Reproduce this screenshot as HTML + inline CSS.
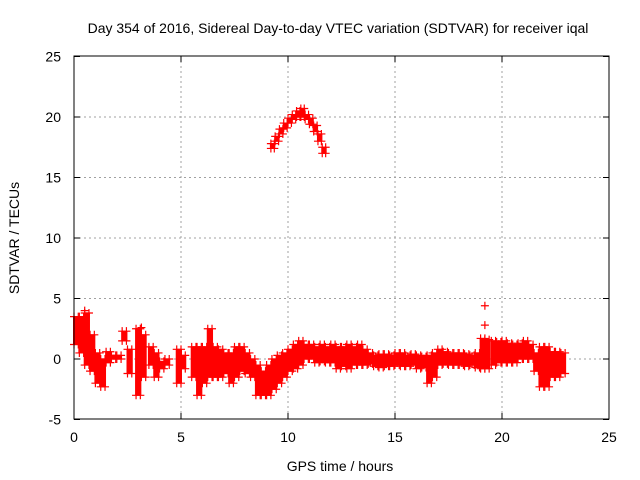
<!DOCTYPE html>
<html><head><meta charset="utf-8"><style>
body{margin:0;background:#fff}
svg{display:block;font-family:"Liberation Sans",sans-serif;font-size:13px}
</style></head><body>
<svg id="chart" width="640" height="480" viewBox="0 0 640 480">
<text x="338" y="33" text-anchor="middle" font-size="14">Day 354 of 2016, Sidereal Day-to-day VTEC variation (SDTVAR) for receiver iqal</text>
<g id="grid"></g>
<g id="marks"></g>
<rect x="74" y="56" width="535" height="363" fill="none" stroke="#000" stroke-width="1"/>
<g id="ticks"></g>
<text x="340" y="471" text-anchor="middle" font-size="14">GPS time / hours</text>
<text transform="translate(19,238) rotate(-90)" text-anchor="middle" font-size="14">SDTVAR / TECUs</text>
</svg>
<script>
const xTicks=[0,5,10,15,20,25];
const yTicks=[-5,0,5,10,15,20,25];
const bandTime=[0,0.25,0.5,0.75,1,1.25,1.5,1.75,2,2.25,2.5,2.9,3.15,3.5,3.75,4,4.25,4.8,5,5.5,5.75,6,6.25,6.5,6.75,7,7.25,7.5,7.75,8,8.25,8.5,8.75,9,9.25,9.5,9.75,10,10.25,10.5,10.75,11,11.25,11.5,11.75,12,12.25,12.5,12.75,13,13.25,13.5,13.75,14,14.25,14.5,14.75,15,15.25,15.5,15.75,16,16.25,16.5,16.75,17,17.25,17.5,17.75,18,18.25,18.5,18.75,19,19.2,19.5,19.75,20,20.25,20.5,20.75,21,21.25,21.5,21.75,22,22.25,22.5,22.75];
const bandLow=[1.2,0.5,-0.5,-1,-2,-2.3,-0.3,0,0,1.5,-1.2,-3,-1.5,-0.5,-1.5,-0.8,-0.5,-2,-0.8,-1.5,-3,-2,-1.5,-1.5,-1.5,-1.2,-2,-1.5,-1,-1.2,-1.5,-3,-3,-3,-2.5,-2,-1.5,-1,-0.8,-0.5,0,0,-0.3,-0.2,-0.3,-0.3,-0.8,-0.6,-0.8,-0.5,-0.5,-0.5,-0.4,-0.6,-0.7,-0.6,-0.6,-0.5,-0.6,-0.6,-0.5,-0.8,-0.7,-2,-1.5,-0.5,-0.4,-0.5,-0.5,-0.5,-0.6,-0.5,-0.7,-0.8,-0.8,-0.5,-0.3,-0.3,-0.3,-0.3,0,0,0,-1,-2.3,-2.3,-1.5,-1.5,-1.2];
const bandHigh=[3.5,3.5,3.8,2,0.5,0,0.6,0.3,0.3,2.3,0.8,2.5,2,1,0.5,-0.2,0,0.8,0.3,1,1,1,2.5,1,0.8,0.5,0.5,1,1,0.5,0,-0.5,-1,-0.5,0,0.3,0.5,0.8,1.2,1.5,1.2,1.2,1,1.2,1,1.2,1,1,1.2,1.0,1.2,0.8,0.5,0.3,0.4,0.4,0.3,0.5,0.5,0.3,0.4,0.3,0.2,0.3,0.5,0.8,0.6,0.5,0.5,0.5,0.4,0.3,0.5,1.7,1.6,1.5,1.4,1.5,1.3,1.2,1.3,1.5,1.2,0.5,1,1,0.6,0.6,0.5];
const arcTime=[9.2,9.4,9.6,9.8,10,10.2,10.4,10.6,10.8,11,11.2,11.4,11.6];
const arcLow=[17.4,18,18.6,19.1,19.5,19.8,20,20,19.8,19.4,18.8,18,17];
const arcHigh=[17.8,18.4,19,19.5,19.9,20.2,20.5,20.7,20.2,19.9,19.3,18.6,17.5];
const outlierTime=[19.2,19.2,0.5,3.15];
const outlierValue=[4.4,2.8,4.0,2.6];

const NS='http://www.w3.org/2000/svg';
const X=t=>74+t*21.4, Y=v=>359-v*12.1;
const grid=document.getElementById('grid'), ticks=document.getElementById('ticks'), marks=document.getElementById('marks');
function mk(tag,attrs,parent){const e=document.createElementNS(NS,tag);for(const k in attrs)e.setAttribute(k,attrs[k]);parent.appendChild(e);return e;}
xTicks.forEach(t=>{
  if(t>0&&t<25){const g=mk('line',{x1:X(t),x2:X(t),y1:56,y2:419,stroke:'#a0a0a0','stroke-dasharray':'2,3'},grid);
  
  }
  const tk=mk('line',{x1:X(t),x2:X(t),y1:419,y2:413,stroke:'#000'},ticks);
  
  
  const tk2=mk('line',{x1:X(t),x2:X(t),y1:56,y2:62,stroke:'#000'},ticks);
  
  
  const l=mk('text',{x:X(t),y:442,'text-anchor':'middle','font-size':'14'},ticks);l.textContent=t;
  
  
});
yTicks.forEach(v=>{
  if(v>-5&&v<25){const g=mk('line',{x1:74,x2:609,y1:Y(v),y2:Y(v),stroke:'#a0a0a0','stroke-dasharray':'2,3'},grid);
  
  }
  const tk=mk('line',{x1:74,x2:80,y1:Y(v),y2:Y(v),stroke:'#000'},ticks);
  
  
  const tk2=mk('line',{x1:603,x2:609,y1:Y(v),y2:Y(v),stroke:'#000'},ticks);
  
  
  const l=mk('text',{x:61,y:Y(v)+5,'text-anchor':'end','font-size':'14'},ticks);l.textContent=v;
  
  
});
function plus(t,v){const p=mk('path',{d:`M${X(t)-4} ${Y(v)}h8M${X(t)} ${Y(v)-4}v8`,stroke:'#f00','stroke-width':'1.2'},marks);
  
  }
function band(ts,lo,hi,w){
  for(let i=0;i<ts.length;i++){
    const r=mk('rect',{x:X(ts[i])-1,y:Y(hi[i]),width:w*21.4+2,height:Math.max(2,Y(lo[i])-Y(hi[i])),fill:'#f00'},marks);
    
    
    plus(ts[i],hi[i]);plus(ts[i],lo[i]);plus(ts[i]+w,hi[i]);plus(ts[i]+w,lo[i]);
  }
}
band(bandTime,bandLow,bandHigh,0.2);
band(arcTime,arcLow,arcHigh,0.16);
outlierTime.forEach((t,i)=>plus(t,outlierValue[i]));
</script>
</body></html>
